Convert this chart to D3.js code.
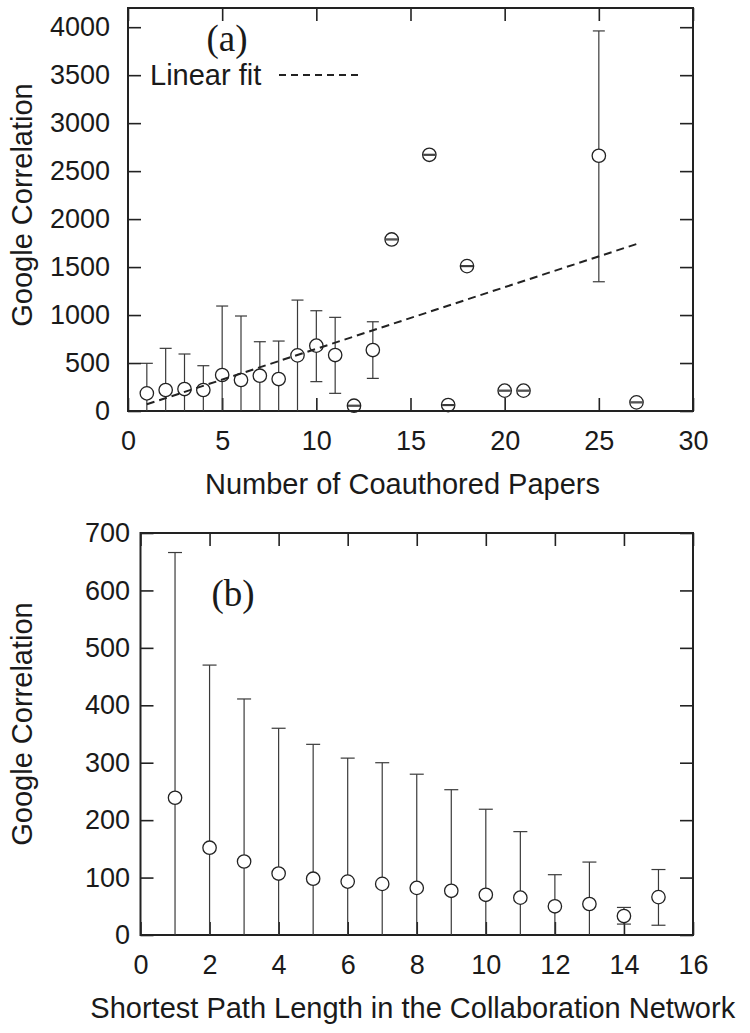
<html>
<head>
<style>
  body { margin: 0; background: white; }
  .chart text { font-family: "Liberation Sans", Arial, sans-serif; fill: #1a1a1a; }
  .chart .tick line { stroke: #222; stroke-width: 1.6; }
  .chart .domain { display: none; }
</style>
</head>
<body>
<svg class="chart" width="750" height="1033"></svg>

<script src="https://cdnjs.cloudflare.com/ajax/libs/d3/7.8.5/d3.min.js"></script>
<script>
  // panel (a): coauthored papers
  var papersX   = [1, 2, 3, 4, 5, 6, 7, 8, 9, 10, 11, 12, 13, 14, 16, 17, 18, 20, 21, 25, 27];
  var papersY   = [184, 219, 229, 219, 375, 323, 368, 333, 580, 681, 583, 55, 635, 1788, 2670, 62, 1510, 212, 212, 2660, 90];
  var papersLo  = [0, 0, 0, 0, 0, 0, 0, 0, 0, 306, 184, 50, 340, 1783, 2665, 57, 1505, 207, 207, 1347, 85];
  var papersHi  = [497, 653, 594, 472, 1094, 990, 722, 729, 1156, 1045, 976, 60, 930, 1793, 2675, 67, 1515, 217, 217, 3961, 95];
  var fitX = [1, 27];
  var fitY = [70, 1740];
  var papersXTicks = [0, 5, 10, 15, 20, 25, 30];
  var papersYTicks = [0, 500, 1000, 1500, 2000, 2500, 3000, 3500, 4000];

  // panel (b): shortest path length
  var pathX  = [1, 2, 3, 4, 5, 6, 7, 8, 9, 10, 11, 12, 13, 14, 15];
  var pathY  = [239, 152, 128, 107, 98, 93, 89, 82, 77, 70, 65, 50, 54, 33, 66];
  var pathLo = [0, 0, 0, 0, 0, 0, 0, 0, 0, 0, 0, 0, 0, 19, 17];
  var pathHi = [666, 470, 411, 360, 332, 308, 300, 280, 253, 219, 180, 105, 127, 48, 114];
  var pathXTicks = [0, 2, 4, 6, 8, 10, 12, 14, 16];
  var pathYTicks = [0, 100, 200, 300, 400, 500, 600, 700];

  var svg = d3.select(".chart");
  var tickLen = 13;
  var r = 6.7;
  var fmt = d3.format("d");

  function drawPanel(p) {
    var x = d3.scaleLinear().domain(p.xDomain).range([p.left, p.right]);
    var y = d3.scaleLinear().domain(p.yDomain).range([p.bottom, p.top]);
    var g = svg.append("g");

    g.append("g")
      .attr("transform", "translate(0," + p.bottom + ")")
      .call(d3.axisBottom(x).tickValues(p.xTicks).tickFormat(fmt).tickSizeInner(-tickLen).tickSizeOuter(0).tickPadding(20))
      .selectAll("text").style("font-size", "27px").attr("fill", "#1a1a1a");
    g.append("g")
      .attr("transform", "translate(0," + p.top + ")")
      .call(d3.axisTop(x).tickValues(p.xTicks).tickSizeInner(-tickLen).tickSizeOuter(0).tickFormat(""));
    g.append("g")
      .attr("transform", "translate(" + p.left + ",0)")
      .call(d3.axisLeft(y).tickValues(p.yTicks).tickFormat(fmt).tickSizeInner(-tickLen).tickSizeOuter(0).tickPadding(p.yPad))
      .selectAll("text").style("font-size", "27px").attr("fill", "#1a1a1a");
    g.append("g")
      .attr("transform", "translate(" + p.right + ",0)")
      .call(d3.axisRight(y).tickValues(p.yTicks).tickSizeInner(-tickLen).tickSizeOuter(0).tickFormat(""));

    g.append("rect")
      .attr("x", p.left).attr("y", p.top)
      .attr("width", p.right - p.left).attr("height", p.bottom - p.top)
      .attr("fill", "none").attr("stroke", "#222").attr("stroke-width", 2);

    var pts = p.xs.map(function(d, i) { return {x: d, y: p.ys[i], lo: p.lo[i], hi: p.hi[i]}; });
    var bars = g.append("g").attr("stroke", "#3a3a3a").attr("stroke-width", 1.2);

    // upper whisker, stops at the circle
    bars.selectAll(".up").data(pts.filter(function(d) { return y(d.hi) < y(d.y) - r; }))
      .enter().append("line")
      .attr("x1", function(d) { return x(d.x); }).attr("x2", function(d) { return x(d.x); })
      .attr("y1", function(d) { return y(d.hi); }).attr("y2", function(d) { return y(d.y) - r; });
    // lower whisker
    bars.selectAll(".down").data(pts.filter(function(d) { return y(d.lo) > y(d.y) + r; }))
      .enter().append("line")
      .attr("x1", function(d) { return x(d.x); }).attr("x2", function(d) { return x(d.x); })
      .attr("y1", function(d) { return y(d.y) + r; }).attr("y2", function(d) { return y(d.lo); });
    // caps
    bars.selectAll(".capHi").data(pts)
      .enter().append("line")
      .attr("x1", function(d) { return x(d.x) - p.cap; }).attr("x2", function(d) { return x(d.x) + p.cap; })
      .attr("y1", function(d) { return y(d.hi); }).attr("y2", function(d) { return y(d.hi); });
    bars.selectAll(".capLo").data(pts.filter(function(d) { return d.lo > 0; }))
      .enter().append("line")
      .attr("x1", function(d) { return x(d.x) - p.cap; }).attr("x2", function(d) { return x(d.x) + p.cap; })
      .attr("y1", function(d) { return y(d.lo); }).attr("y2", function(d) { return y(d.lo); });

    g.append("g").selectAll("circle").data(pts)
      .enter().append("circle")
      .attr("cx", function(d) { return x(d.x); })
      .attr("cy", function(d) { return y(d.y); })
      .attr("r", r)
      .attr("fill", "none").attr("stroke", "#222").attr("stroke-width", 1.3);

    g.append("text")
      .attr("x", (p.left + p.right) / 2 + p.titleShift).attr("y", p.bottom + 83)
      .attr("text-anchor", "middle").style("font-size", "29px")
      .text(p.xTitle);
    g.append("text")
      .attr("transform", "translate(32," + p.yTitleMid + ") rotate(-90)")
      .attr("text-anchor", "middle").style("font-size", "29px")
      .text("Google Correlation");

    g.append("text")
      .attr("x", p.tagX).attr("y", p.tagY)
      .attr("text-anchor", "middle")
      .style("font-family", "'Liberation Serif', 'Times New Roman', serif").style("font-size", "37px")
      .text(p.tag);

    return {x: x, y: y, g: g};
  }

  var a = drawPanel({
    xDomain: [0, 30], yDomain: [0, 4200],
    left: 128, right: 693, top: 8, bottom: 411,
    xTicks: papersXTicks, yTicks: papersYTicks, yPad: 18,
    xs: papersX, ys: papersY, lo: papersLo, hi: papersHi, cap: 6,
    xTitle: "Number of Coauthored Papers", titleShift: -8, yTitleMid: 205,
    tag: "(a)", tagX: 227, tagY: 51
  });

  // linear fit
  var fitLine = d3.line()
    .x(function(d) { return a.x(d[0]); })
    .y(function(d) { return a.y(d[1]); });
  a.g.append("path")
    .datum(fitX.map(function(d, i) { return [d, fitY[i]]; }))
    .attr("d", fitLine)
    .attr("fill", "none").attr("stroke", "#222").attr("stroke-width", 2)
    .attr("stroke-dasharray", "8,5");

  // legend
  a.g.append("text")
    .attr("x", 150).attr("y", 85)
    .style("font-size", "29px")
    .text("Linear fit");
  a.g.append("line")
    .attr("x1", 279).attr("x2", 362).attr("y1", 75).attr("y2", 75)
    .attr("stroke", "#222").attr("stroke-width", 2)
    .attr("stroke-dasharray", "7,5");

  drawPanel({
    xDomain: [0, 16], yDomain: [0, 700],
    left: 140.5, right: 693, top: 533, bottom: 935,
    xTicks: pathXTicks, yTicks: pathYTicks, yPad: 10.5,
    xs: pathX, ys: pathY, lo: pathLo, hi: pathHi, cap: 7,
    xTitle: "Shortest Path Length in the Collaboration Network", titleShift: -4, yTitleMid: 724,
    tag: "(b)", tagX: 233, tagY: 606
  });
</script>
</body>
</html>
